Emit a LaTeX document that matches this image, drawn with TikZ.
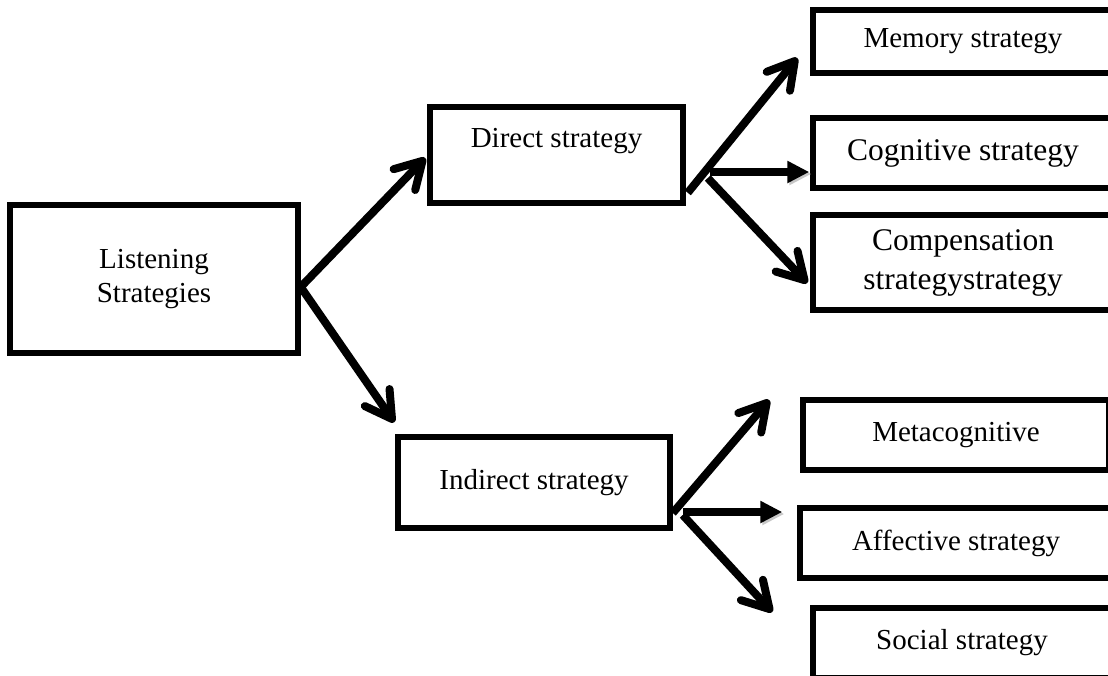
\documentclass[tikz,border=0pt]{standalone}
\usepackage{fontspec}
\setmainfont{Liberation Serif}
\usetikzlibrary{arrows.meta}

\begin{document}
\begin{tikzpicture}[
    x=1pt, y=-1pt,
    box/.style = {draw, line width=5.5pt, inner sep=0pt, align=center,
      font=\fontsize{29}{34}\selectfont},
    bigtext/.style = {font=\fontsize{31.5}{39}\selectfont},
    link/.style = {line width=8pt,
      preaction={draw=black!22, transform canvas={shift={(2pt,-2pt)}}}},
    openarrow/.style = {link, -{Straight Barb[length=26pt, width=30pt, round]}},
    filledarrow/.style = {link, -{Triangle[length=22pt, width=21pt]}}
  ]
    \useasboundingbox (0,0) rectangle (1108,675);
    \clip (0,0) rectangle (1108,675);
    % boxes
    \node[box, minimum width=288pt, minimum height=148pt] (listening) at (154,279) {Listening\\Strategies};
    \node[box, minimum width=253pt, minimum height=96pt, text height=20pt, text depth=36pt] (direct) at (556.5,155) {Direct strategy};
    \node[box, minimum width=272pt, minimum height=91pt] (indirect) at (534,482.5) {Indirect strategy};
    \node[box, minimum width=300pt, minimum height=63pt] (memory) at (963,41.5) {Memory strategy};
    \node[box, bigtext, minimum width=300pt, minimum height=70pt] (cognitive) at (963,153) {Cognitive strategy};
    \node[box, bigtext, minimum width=300pt, minimum height=95pt] (compensation) at (963,262.5) {Compensation\\strategystrategy};
    \node[box, minimum width=306pt, minimum height=70pt] (metacognitive) at (956,435) {Metacognitive};
    \node[box, minimum width=312pt, minimum height=70pt] (affective) at (956,543) {Affective strategy};
    \node[box, minimum width=298pt, minimum height=70pt] (social) at (962,643) {Social strategy};
    % arrows
    \draw[openarrow] ([shift={(0,8)}]listening.east) -- ([shift={(-2,3)}]direct.west);
    \draw[openarrow] ([shift={(0,8)}]listening.east) -- ([shift={(-1,-12)}]indirect.north west);
    \draw[openarrow] ([shift={(2,-13)}]direct.south east) -- ([shift={(-13,16.5)}]memory.west);
    \draw[filledarrow] ([shift={(24,17)}]direct.east) -- ([shift={(-1,19)}]cognitive.west);
    \draw[openarrow] ([shift={(22,23)}]direct.east) -- ([shift={(-3,20.5)}]compensation.west);
    \draw[openarrow] ([shift={(0,30.5)}]indirect.east) -- ([shift={(-31,-35)}]metacognitive.west);
    \draw[filledarrow] ([shift={(10,29.5)}]indirect.east) -- ([shift={(-15,-31)}]affective.west);
    \draw[openarrow] ([shift={(10,32.5)}]indirect.east) -- ([shift={(-38,-31)}]social.west);
\end{tikzpicture}
\end{document}
